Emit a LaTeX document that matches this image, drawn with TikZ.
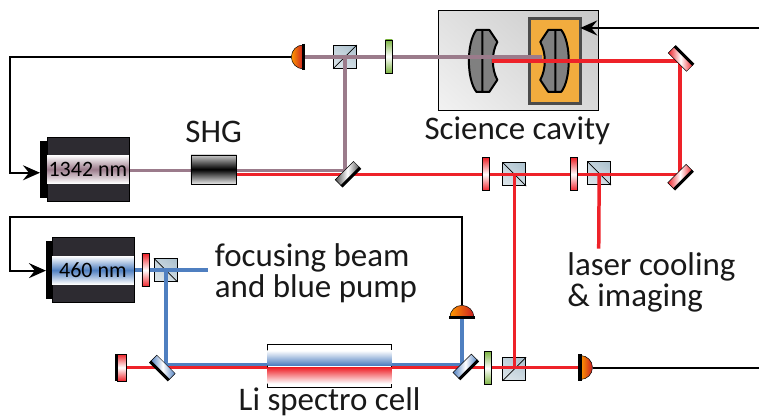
\documentclass[tikz,border=0pt]{standalone}
\usepackage{fontspec}
\setmainfont{Carlito}
\usetikzlibrary{arrows.meta,shapes.geometric,shadings}
\definecolor{beamRed}{HTML}{EE2229}
\definecolor{beamMauve}{HTML}{9B7B8B}
\definecolor{beamBlue}{HTML}{4F7FC0}
\definecolor{laserBody}{HTML}{2D2B31}
\definecolor{cubeBlue}{HTML}{A9BFCC}
\definecolor{plateGreen}{HTML}{7CB342}
\definecolor{ovenOrange}{HTML}{F2AC3E}
\pgfdeclarelayer{under}
\pgfdeclarelayer{beams}
\pgfsetlayers{under,beams,main}
\begin{document}
\begin{tikzpicture}
		[x=1pt,y=-1pt,
			labelDecorate/.style={font=\fontsize{33}{31}\selectfont,inner sep=0pt,text=black!90},
			beamDecorate/.style={line width=3.5pt,#1},
			wireDecorate/.style={line width=2pt,black},
			tipDecorate/.style={-{Stealth[length=17pt,width=15pt,inset=6pt]}},
			laserDecorate/.style={draw=black,line width=0.5pt,fill=laserBody,minimum width=82pt,minimum height=65pt,inner sep=0pt},
			bandDecorate/.style={draw=none,minimum width=82pt,minimum height=28pt,inner sep=0pt,font=\fontsize{22}{22}\selectfont,
				top color=white,bottom color=white,middle color=#1},
			plateDecorate/.style={draw=black,line width=0.6pt,minimum width=7pt,minimum height=33pt,inner sep=0pt,
				top color=#1,bottom color=#1,middle color=white},
			cubeDecorate/.style={draw=black,line width=0.7pt,minimum size=23pt,inner sep=0pt,
				shading=bilinear interpolation,lower left=cubeBlue!40,lower right=cubeBlue!55,upper left=cubeBlue!70,upper right=cubeBlue},
			mirrorDecorate/.style={minimum width=26pt,minimum height=9pt,inner sep=0pt,draw=black,line width=0.5pt,
				left color=#1,right color=#1,middle color=white},
			diodeDecorate/.style={semicircle,minimum size=12pt,inner sep=0pt,draw=black,line width=0.5pt,
				left color=orange!80!yellow,right color=beamRed!85!black},
			lensDecorate/.style={draw=black,line width=2pt,fill=black!50,line join=round}]
		% cavity
		\begin{pgfonlayer}{under}
			\node (cavity) at (519,61) [draw=black,line width=1pt,minimum width=160pt,minimum height=100pt,inner sep=0pt,
				shading=bilinear interpolation,lower left=white!95!black,upper right=black!22,upper left=black!12,lower right=black!15] {};
			\node (oven) at (555.5,61) [draw=black!70,line width=3pt,fill=ovenOrange,minimum width=51pt,minimum height=85pt,inner sep=0pt] {};
			\foreach \x/\flip in {483/1, 556/-1}
				{
					\draw[lensDecorate,shift={(\x,61)},xscale=\flip]
					(-6,-31) .. controls (-16,-18) and (-16,18) .. (-6,31)
					-- (7,31) -- (15,19) .. controls (9,8) and (9,-8) .. (15,-19) -- (7,-31) -- cycle
					(0,-31) -- (0,31);
				}
			% cubes
			\foreach \nodename/\x/\y/\tilt in {
					cubea/345.5/57/1, cubeb/515/174.5/-1, cubec/600/173.5/-1, cubed/166/270.5/-1, cubee/515/369.5/1}
				{
					\node (\nodename) at (\x,\y) [cubeDecorate] {};
					\ifnum\tilt=1
						\draw[line width=0.7pt] (\nodename.south west) -- (\nodename.north east);
					\else
						\draw[line width=0.7pt] (\nodename.north west) -- (\nodename.south east);
					\fi
				}
		\end{pgfonlayer}
		% lasers
		\node (red) at (88,169.5) [laserDecorate] {};
		\node (blue) at (93,270.5) [laserDecorate] {};
		\node (redband) at (red) [bandDecorate=beamMauve] {1342 nm};
		\node (blueband) at (blue) [bandDecorate=beamBlue] {460 nm};
		\fill (red.north west)++(-7,4) rectangle ([yshift=4pt]red.south west);
		\fill (blue.north west)++(-6,4) rectangle ([yshift=4pt]blue.south west);
		\node (shg) at (214,169.5) [draw=black,line width=0.5pt,minimum width=46pt,minimum height=29pt,inner sep=0pt,
			top color=black!20,bottom color=black!10,middle color=black] {};
		% plates
		\foreach \nodename/\x/\y/\tint in {
				platea/389.5/56.5/plateGreen, plateb/486.5/174.5/beamRed, platec/574.5/174.5/beamRed,
				plated/145.5/270.5/beamRed, platee/488.5/368.5/plateGreen}
			{
				\node (\nodename) at (\x,\y) [plateDecorate=\tint] {};
			}
		% mirrors
		\foreach \nodename/\x/\y/\tilt/\tint in {
				mirrora/348/174/45/black!70, mirrorb/681.5/59/-45/beamRed, mirrorc/681/177/45/beamRed,
				mirrord/163/368/-45/beamBlue, mirrore/466/367/45/beamBlue}
			{
				\node (\nodename) at (\x,\y) [mirrorDecorate=\tint,rotate=\tilt] {};
			}
		\draw[line width=3pt] (mirrora.south west) -- (mirrora.south east);
		\draw[line width=3pt] (mirrorb.north west) -- (mirrorb.north east);
		\draw[line width=3pt] (mirrorc.south west) -- (mirrorc.south east);
		\draw[line width=3pt] (mirrord.south west) -- (mirrord.south east);
		\draw[line width=3pt] (mirrore.south west) -- (mirrore.south east);
		\node (endmirror) at (121.5,368) [draw=black,line width=0.5pt,minimum width=9pt,minimum height=27pt,inner sep=0pt,
			top color=beamRed,bottom color=beamRed,middle color=white] {};
		\draw[line width=3pt] (endmirror.north west) -- (endmirror.south west);
		% diodes
		\foreach \nodename/\x/\y/\tilt in {
				diodea/304/57/90, diodeb/462.5/318/0, diodec/581/368/-90}
			{
				\node (\nodename) at (\x,\y) [diodeDecorate,rotate=\tilt,anchor=chord center] {};
				\draw[line width=3.5pt,shorten >=-1pt,shorten <=-1pt] (\nodename.arc start) -- (\nodename.arc end);
			}
		% cell
		\node (cell) at (330,366.5) [draw=black,line width=0.6pt,fill=white,minimum width=124pt,minimum height=43pt,inner sep=0pt] {};
		\shade[top color=white,bottom color=beamBlue] (cell.west |- 0,351) rectangle (cell.east |- 0,365.5);
		\shade[top color=beamRed,bottom color=white] (cell.west |- 0,368) rectangle (cell.east |- 0,384);
		% beams
		\coordinate (focus) at (208,270.5);
		\coordinate (cooling) at (599.5,249);
		\coordinate (greenout) at (129,170.5);
		\coordinate (redout) at (237,174.5);
		\coordinate (redturn) at (681,174.5);
		\coordinate (redtop) at (681,61);
		\coordinate (redend) at (493,61);
		\coordinate (greenturn) at (345.5,170.5);
		\coordinate (greenend) at (543,57);
		\coordinate (bluecorner) at (166,365);
		\coordinate (blueturn) at (462.5,365);
		\begin{pgfonlayer}{beams}
			\draw[beamDecorate=beamMauve] (greenout) -- (greenturn) -- (cubea.center);
			\draw[beamDecorate=beamMauve] (diodea.chord center) -- (greenend);
			\draw[beamDecorate=beamRed] (redout) -- (redturn) -- (redtop) -- (redend);
			\draw[beamDecorate=beamRed] (cubeb.center) -- (cubeb.center |- cubee.center);
			\draw[beamDecorate=beamRed] (cubec.center) -- (cooling);
			\draw[beamDecorate=beamBlue] (blueband.east) -- (focus);
			\draw[beamDecorate=beamBlue] (cubed.center) -- (bluecorner) -- (blueturn) -- (diodeb.chord center);
			\draw[beamDecorate=beamRed] (endmirror.center) -- (diodec.chord center);
		\end{pgfonlayer}
		% wires
		\coordinate (farone) at (760,28);
		\coordinate (fartwo) at (760,368);
		\draw[wireDecorate,tipDecorate] (diodea.apex) -- (10,57) -- (10,173) -- (40,173);
		\draw[wireDecorate,tipDecorate] (diodeb.apex) -- (462.5,217) -- (10,217) -- (10,271) -- (46,271);
		\draw[wireDecorate,tipDecorate] (farone) -- (581,28);
		\draw[wireDecorate] (diodec.apex) -- (fartwo);
		% labels
		\node (shglabel) at (214,132.5) [labelDecorate] {SHG};
		\node (cavitylabel) at (518,131) [labelDecorate] {Science cavity};
		\node (focuslabel) at (215,274) [labelDecorate,anchor=west,align=left] {focusing beam\\and blue pump};
		\node (coolinglabel) at (568,283) [labelDecorate,anchor=west,align=left] {laser cooling\\\& imaging};
		\node (celllabel) at (330,402) [labelDecorate] {Li spectro cell};
		\useasboundingbox (0,0) rectangle (760,419);
	\end{tikzpicture}
\end{document}
